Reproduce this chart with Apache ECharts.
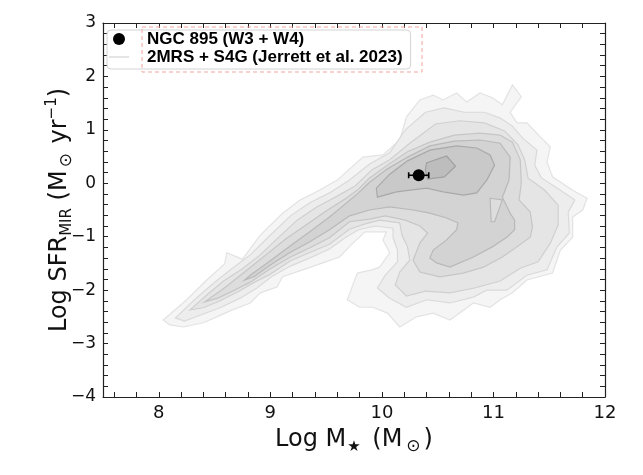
<!DOCTYPE html>
<html>

<head>
    <meta charset="UTF-8">
    <title>NGC 895 - Log M* vs Log SFR</title>
    <script src="https://cdn.jsdelivr.net/npm/echarts@6/dist/echarts.min.js"></script>
    <style>
        html, body { margin: 0; padding: 0; background: #fff; }
        #chartBox { width: 643px; height: 475px; }
    </style>
</head>

<body>
    <div id="chartBox"></div>

    <script>
        // 2MRS + S4G density contours, outermost level first, points are [log M*, log SFR]
        var level1 = [[8.04,-2.56],[8.25,-2.18],[8.43,-1.81],[8.59,-1.51],[8.61,-1.30],[8.75,-1.42],[8.91,-0.97],[9.11,-0.56],[9.27,-0.31],[9.44,-0.13],[9.60,0.06],[9.83,0.49],[10.01,0.53],[10.16,0.81],[10.22,1.24],[10.34,1.56],[10.46,1.65],[10.55,1.56],[10.67,1.69],[10.76,1.52],[10.88,1.69],[10.99,1.60],[11.08,1.47],[11.17,1.84],[11.25,1.62],[11.15,1.33],[11.21,1.13],[11.30,1.13],[11.42,0.87],[11.51,0.68],[11.48,0.40],[11.53,0.12],[11.71,-0.13],[11.84,-0.28],[11.80,-0.50],[11.71,-0.63],[11.71,-1.01],[11.60,-1.25],[11.53,-1.68],[11.30,-1.81],[11.17,-2.05],[11.06,-2.18],[10.97,-2.32],[10.82,-2.24],[10.61,-2.56],[10.46,-2.43],[10.31,-2.50],[10.16,-2.69],[10.05,-2.43],[9.92,-2.32],[9.80,-2.32],[9.69,-2.18],[9.78,-1.68],[9.91,-1.62],[9.98,-1.57],[10.07,-1.30],[10.01,-1.06],[10.04,-0.91],[9.85,-0.91],[9.74,-1.12],[9.62,-1.38],[9.47,-1.49],[9.29,-1.62],[9.11,-1.75],[9.06,-1.94],[8.91,-2.05],[8.82,-2.24],[8.66,-2.37],[8.52,-2.50],[8.40,-2.61],[8.22,-2.69],[8.10,-2.65]];
        var level2 = [[8.15,-2.52],[8.32,-2.18],[8.49,-1.87],[8.66,-1.59],[8.82,-1.34],[8.98,-1.01],[9.18,-0.61],[9.35,-0.37],[9.53,-0.18],[9.71,0.06],[9.89,0.36],[10.07,0.57],[10.21,1.00],[10.39,1.33],[10.56,1.41],[10.74,1.33],[10.92,1.33],[11.06,1.22],[11.17,1.07],[11.26,0.85],[11.39,0.62],[11.37,0.34],[11.43,0.10],[11.60,-0.13],[11.73,-0.31],[11.67,-0.54],[11.68,-0.93],[11.57,-1.19],[11.48,-1.62],[11.30,-1.72],[11.12,-2.00],[10.94,-2.00],[10.82,-2.13],[10.61,-2.24],[10.40,-2.18],[10.22,-2.32],[10.07,-2.15],[9.96,-1.96],[10.03,-1.72],[10.14,-1.47],[10.14,-1.25],[10.10,-1.02],[10.10,-0.84],[9.94,-0.80],[9.79,-0.87],[9.67,-1.02],[9.53,-1.23],[9.35,-1.40],[9.18,-1.55],[9.01,-1.75],[8.88,-1.96],[8.73,-2.15],[8.55,-2.33],[8.37,-2.47],[8.23,-2.58]];
        var level3 = [[8.28,-2.37],[8.43,-2.09],[8.58,-1.83],[8.75,-1.60],[8.91,-1.34],[9.06,-1.04],[9.24,-0.69],[9.42,-0.44],[9.60,-0.24],[9.76,-0.05],[9.91,0.25],[10.07,0.44],[10.25,0.75],[10.48,1.11],[10.70,1.17],[10.92,1.13],[11.10,0.98],[11.22,0.72],[11.28,0.44],[11.31,0.10],[11.46,-0.13],[11.58,-0.41],[11.58,-0.78],[11.51,-1.12],[11.40,-1.47],[11.24,-1.59],[11.06,-1.83],[10.83,-1.96],[10.61,-2.05],[10.39,-2.02],[10.22,-2.11],[10.12,-1.90],[10.16,-1.66],[10.25,-1.44],[10.23,-1.19],[10.18,-0.97],[10.16,-0.74],[9.98,-0.69],[9.85,-0.76],[9.71,-0.86],[9.53,-1.14],[9.35,-1.30],[9.18,-1.45],[9.00,-1.70],[8.86,-1.85],[8.71,-2.03],[8.55,-2.20],[8.40,-2.33]];
        var level4 = [[8.41,-2.22],[8.60,-1.94],[8.78,-1.64],[8.96,-1.34],[9.14,-1.04],[9.32,-0.78],[9.50,-0.52],[9.68,-0.28],[9.79,-0.11],[9.89,0.10],[10.05,0.34],[10.23,0.59],[10.43,0.77],[10.65,0.90],[10.88,0.94],[11.06,0.90],[11.17,0.77],[11.24,0.44],[11.25,0.01],[11.23,-0.31],[11.33,-0.54],[11.35,-0.82],[11.33,-1.01],[11.21,-1.19],[11.08,-1.38],[10.91,-1.57],[10.73,-1.68],[10.52,-1.75],[10.34,-1.66],[10.28,-1.44],[10.34,-1.12],[10.41,-0.93],[10.34,-0.80],[10.21,-0.69],[10.03,-0.61],[9.89,-0.67],[9.71,-0.72],[9.53,-1.02],[9.35,-1.21],[9.18,-1.38],[9.00,-1.60],[8.82,-1.85],[8.68,-2.00],[8.53,-2.15]];
        var level5 = [[8.77,-1.81],[8.82,-1.72],[9.00,-1.45],[9.18,-1.17],[9.35,-0.91],[9.53,-0.63],[9.67,-0.39],[9.79,-0.18],[9.89,0.02],[10.05,0.27],[10.23,0.49],[10.43,0.70],[10.65,0.79],[10.88,0.81],[11.06,0.75],[11.15,0.49],[11.14,0.06],[11.08,-0.26],[11.15,-0.56],[11.19,-0.69],[11.19,-0.87],[11.12,-1.01],[10.99,-1.19],[10.82,-1.38],[10.61,-1.57],[10.49,-1.49],[10.43,-1.40],[10.46,-1.25],[10.58,-1.06],[10.67,-0.87],[10.68,-0.74],[10.58,-0.65],[10.43,-0.56],[10.28,-0.50],[10.07,-0.44],[9.89,-0.50],[9.71,-0.61],[9.53,-0.87],[9.35,-1.10],[9.18,-1.29],[9.00,-1.53],[8.86,-1.74]];
        var level5Gap = [[10.97,-0.28],[11.08,-0.31],[11.01,-0.72],[10.98,-0.72]];
        var level6 = [[9.95,-0.09],[10.07,0.17],[10.23,0.42],[10.43,0.62],[10.67,0.70],[10.85,0.66],[10.97,0.53],[11.01,0.34],[10.94,0.06],[10.85,-0.18],[10.73,-0.22],[10.55,-0.16],[10.40,-0.09],[10.13,-0.16],[9.96,-0.26]];
        var level7 = [[10.39,0.25],[10.40,0.38],[10.58,0.51],[10.66,0.32],[10.56,0.12],[10.41,0.08]];

        // NGC 895 from W3 + W4: [log M*, log SFR, error in log M*]
        var ngc895 = [[10.33, 0.15, 0.09]];

        var xTickLabels = [8, 9, 10, 11, 12];
        var yTickLabels = [-4, -3, -2, -1, 0, 1, 2, 3];
        var xTicks = [7.6, 7.8, 8, 8.2, 8.4, 8.6, 8.8, 9, 9.2, 9.4, 9.6, 9.8, 10, 10.2, 10.4, 10.6, 10.8, 11, 11.2, 11.4, 11.6, 11.8, 12];

        var ngcName = 'NGC 895 (W3 + W4)';
        var sampleName = '2MRS + S4G (Jerrett et al. 2023)';

        drawChart('chartBox');

        function drawChart(idname) {
            var myChart = echarts.init(document.getElementById(idname));

            var contourPolys = [level1, level2, level3, level4, level5, level5Gap, level6, level7];
            var contourFill = ['#f5f5f5', '#ededed', '#e5e5e5', '#dddddd', '#d3d3d3', '#dddddd', '#c9c9c9', '#bdbdbd'];
            var contourEdge = ['#e3e3e3', '#dadada', '#d0d0d0', '#c6c6c6', '#b9b9b9', '#b9b9b9', '#a9a9a9', '#a0a0a0'];

            var yTicks = [];
            for (var i = yTickLabels[0] * 5; i <= yTickLabels[yTickLabels.length - 1] * 5; i++) {
                yTicks.push(i / 5);
            }

            var axisFont = 'DejaVu Sans';
            var minus = function (v) {
                return v < 0 ? '\u2212' + Math.abs(v) : String(v);
            };

            var baseX = {
                type: 'value',
                min: 7.5,
                max: 12,
                splitLine: { show: false },
                axisLine: { show: true, onZero: false, lineStyle: { color: '#222', width: 1.2 } },
                axisTick: { show: true, inside: true, length: 5, customValues: xTicks, lineStyle: { color: '#222' } }
            };
            var baseY = {
                type: 'value',
                min: -4,
                max: 3,
                interval: 1,
                splitLine: { show: false },
                axisLine: { show: true, onZero: false, lineStyle: { color: '#222', width: 1.2 } },
                axisTick: { show: true, inside: true, length: 5, customValues: yTicks, lineStyle: { color: '#222' } }
            };

            var option = {
                animation: false,
                backgroundColor: '#fff',
                grid: {
                    left: 103,
                    right: 38,
                    top: 23,
                    bottom: 78,
                    containLabel: false,
                    outerBoundsMode: 'none'
                },
                xAxis: [
                    echarts.util.merge({
                        position: 'bottom',
                        name: '{a|Log M}{s|\u2605}{a| (M}{o|\u2299}{a|)}',
                        nameLocation: 'middle',
                        nameGap: 28,
                        nameMoveOverlap: false,
                        nameTextStyle: {
                            rich: {
                                a: { fontFamily: axisFont, fontSize: 24, color: '#111', lineHeight: 30, verticalAlign: 'middle' },
                                s: { fontFamily: axisFont, fontSize: 15, color: '#111', lineHeight: 30, verticalAlign: 'bottom', padding: [0, 4, 0, 1] },
                                o: { fontFamily: axisFont, fontSize: 17, color: '#111', lineHeight: 30, verticalAlign: 'bottom', padding: [0, 3, 0, 4] }
                            }
                        },
                        axisLabel: {
                            customValues: xTickLabels,
                            fontFamily: axisFont,
                            fontSize: 18,
                            color: '#111',
                            margin: 7
                        }
                    }, baseX, true),
                    echarts.util.merge({
                        position: 'top',
                        axisLabel: { show: false }
                    }, baseX, true)
                ],
                yAxis: [
                    echarts.util.merge({
                        position: 'left',
                        name: '{a|Log SFR}{s|MIR}{a| (M}{o|\u2299}{a| yr}{p|\u22121}{a|)}',
                        nameLocation: 'middle',
                        nameRotate: 90,
                        nameGap: 28,
                        nameMoveOverlap: false,
                        nameTextStyle: {
                            rich: {
                                a: { fontFamily: axisFont, fontSize: 24, color: '#111', lineHeight: 30, verticalAlign: 'middle' },
                                s: { fontFamily: axisFont, fontSize: 15, color: '#111', lineHeight: 26, verticalAlign: 'bottom' },
                                o: { fontFamily: axisFont, fontSize: 17, color: '#111', lineHeight: 28, verticalAlign: 'bottom', padding: [0, 2, 0, 3] },
                                p: { fontFamily: axisFont, fontSize: 15, color: '#111', lineHeight: 26, verticalAlign: 'top' }
                            }
                        },
                        axisLabel: {
                            customValues: yTickLabels,
                            fontFamily: axisFont,
                            fontSize: 17,
                            color: '#111',
                            margin: 7,
                            formatter: minus
                        }
                    }, baseY, true),
                    echarts.util.merge({
                        position: 'right',
                        axisLabel: { show: false }
                    }, baseY, true)
                ],
                legend: {
                    orient: 'vertical',
                    left: 107,
                    top: 30,
                    padding: [0, 8, 3, 2],
                    itemGap: 0,
                    itemWidth: 20,
                    itemHeight: 12,
                    selectedMode: false,
                    backgroundColor: 'rgba(255,255,255,0.85)',
                    borderColor: '#d4d4d4',
                    borderWidth: 1,
                    borderRadius: 4,
                    textStyle: {
                        fontFamily: 'Liberation Sans',
                        fontWeight: 'bold',
                        fontSize: 17,
                        color: '#000',
                        lineHeight: 18,
                        padding: [0, 0, 0, 13]
                    },
                    data: [
                        { name: ngcName, icon: 'circle', itemStyle: { color: '#000', opacity: 1 } },
                        { name: sampleName, icon: 'path://M0,0H40V3H0Z' }
                    ]
                },
                graphic: [{
                    type: 'rect',
                    z: 100,
                    shape: { x: 142, y: 27, width: 280, height: 45 },
                    style: { fill: 'none', stroke: '#f3a39c', lineWidth: 1, lineDash: [4, 3] }
                }],
                series: [
                    {
                        name: sampleName,
                        type: 'custom',
                        silent: true,
                        itemStyle: { color: '#dcdcdc' },
                        data: contourPolys.map(function (p) { return p[0]; }),
                        renderItem: function (params, api) {
                            var poly = contourPolys[params.dataIndex];
                            return {
                                type: 'polygon',
                                shape: { points: poly.map(function (p) { return api.coord(p); }) },
                                style: {
                                    fill: contourFill[params.dataIndex],
                                    stroke: contourEdge[params.dataIndex],
                                    lineWidth: 1.2
                                }
                            };
                        },
                        z: 1
                    },
                    {
                        name: 'errorbar',
                        type: 'custom',
                        silent: true,
                        data: ngc895,
                        renderItem: function (params, api) {
                            var x = api.value(0), y = api.value(1), e = api.value(2);
                            var a = api.coord([x - e, y]);
                            var b = api.coord([x + e, y]);
                            var st = { stroke: '#000', lineWidth: 1.6 };
                            return {
                                type: 'group',
                                children: [
                                    { type: 'line', shape: { x1: a[0], y1: a[1], x2: b[0], y2: b[1] }, style: st },
                                    { type: 'line', shape: { x1: a[0], y1: a[1] - 3, x2: a[0], y2: a[1] + 3 }, style: st },
                                    { type: 'line', shape: { x1: b[0], y1: b[1] - 3, x2: b[0], y2: b[1] + 3 }, style: st }
                                ]
                            };
                        },
                        z: 3
                    },
                    {
                        name: ngcName,
                        type: 'scatter',
                        silent: true,
                        symbol: 'circle',
                        symbolSize: 12,
                        itemStyle: { color: '#000', opacity: 1 },
                        data: ngc895.map(function (d) { return [d[0], d[1]]; }),
                        z: 4
                    }
                ]
            };

            myChart.setOption(option);
        }
    </script>

</body>

</html>
